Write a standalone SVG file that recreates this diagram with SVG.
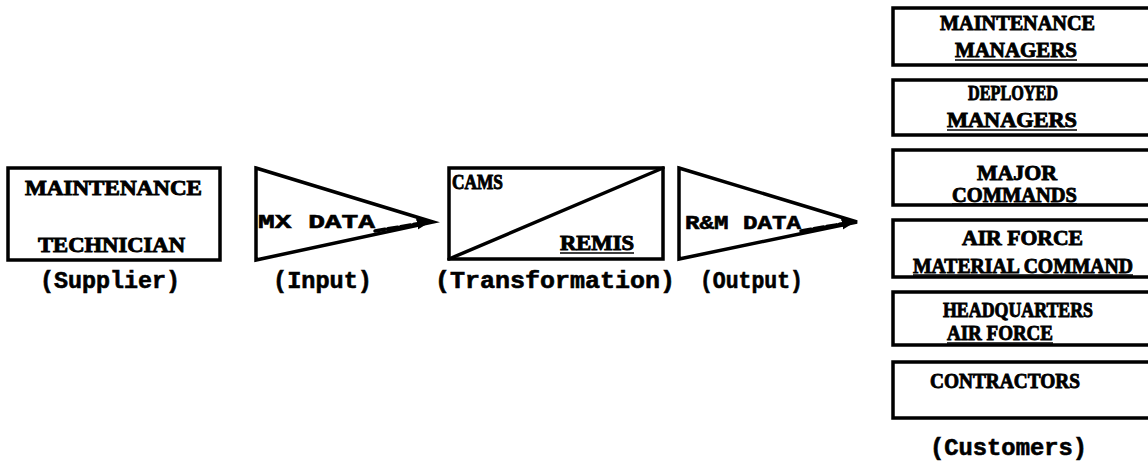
<svg xmlns="http://www.w3.org/2000/svg" width="1148" height="466" viewBox="0 0 1148 466">
  <style>
    .shape { fill: #fff; stroke: #000; stroke-width: 3.5; stroke-linejoin: miter; }
    .edge { fill: none; stroke: #000; stroke-width: 3.5; stroke-linecap: round; }
    .rule { stroke: #000; stroke-width: 1.6; }
    .serif { font-family: "Liberation Serif", "Times New Roman", serif; font-weight: bold; font-size: 21px; fill: #000; stroke: #000; stroke-width: 0.9; }
    .small { font-size: 20px; }
    .mono { font-family: "Liberation Mono", "Courier New", monospace; font-weight: bold; font-size: 23px; fill: #000; stroke: #000; stroke-width: 0.6; }
    .monoin { font-size: 20px; }
  </style>
  <defs>
    <marker id="tip" viewBox="0 0 10 10" refX="8" refY="5" markerWidth="4" markerHeight="4" orient="auto">
      <path d="M0,1 L10,5 L0,9 z" fill="#000"/>
    </marker>
  </defs>

  <!-- supplier -->
  <g id="supplier">
    <rect class="shape" x="8" y="168" width="212" height="92"/>
    <text class="serif" x="25" y="195" textLength="177" lengthAdjust="spacingAndGlyphs">MAINTENANCE</text>
    <text class="serif" x="38" y="252" textLength="147" lengthAdjust="spacingAndGlyphs">TECHNICIAN</text>
    <text class="mono" x="40" y="288" textLength="140" lengthAdjust="spacingAndGlyphs">(Supplier)</text>
  </g>

  <!-- input -->
  <g id="input">
    <polygon class="shape" points="256,168 433,222 256,260"/>
    <text class="mono monoin" x="258" y="228" textLength="117" lengthAdjust="spacingAndGlyphs">MX  DATA</text>
    <text class="mono" x="273" y="288" textLength="99" lengthAdjust="spacingAndGlyphs">(Input)</text>
  </g>

  <!-- transformation -->
  <g id="transformation">
    <rect class="shape" x="449" y="168" width="214" height="91"/>
    <line class="edge" x1="449" y1="259" x2="663" y2="168"/>
    <text class="serif small" x="452" y="189" textLength="51" lengthAdjust="spacingAndGlyphs">CAMS</text>
    <text class="serif small" x="560" y="250" textLength="74" lengthAdjust="spacingAndGlyphs">REMIS</text>
    <line class="rule" x1="560" y1="253" x2="634" y2="253"/>
    <text class="mono" x="435" y="288" textLength="240" lengthAdjust="spacingAndGlyphs">(Transformation)</text>
  </g>

  <!-- output -->
  <g id="output">
    <polygon class="shape" points="679,168 857,222 679,259"/>
    <text class="mono monoin" x="685" y="229" textLength="116" lengthAdjust="spacingAndGlyphs">R&amp;M DATA</text>
    <text class="mono" x="700" y="288" textLength="103" lengthAdjust="spacingAndGlyphs">(Output)</text>
  </g>

  <!-- data flow leaders -->
  <g id="connectors">
    <line class="edge" x1="375" y1="231" x2="428" y2="222" stroke-dasharray="10 3" stroke-width="2.5" marker-end="url(#tip)"/>
    <line class="edge" x1="801" y1="231" x2="853" y2="222" stroke-dasharray="10 3" stroke-width="2.5" marker-end="url(#tip)"/>
  </g>

  <!-- customers -->
  <g id="maintenance-managers">
    <rect class="shape" x="893" y="8" width="270" height="57"/>
    <text class="serif" x="940" y="30" textLength="155" lengthAdjust="spacingAndGlyphs">MAINTENANCE</text>
    <text class="serif" x="955" y="57" textLength="122" lengthAdjust="spacingAndGlyphs">MANAGERS</text>
    <line class="rule" x1="955" y1="60" x2="1077" y2="60"/>
  </g>
  <g id="deployed-managers">
    <rect class="shape" x="893" y="80" width="270" height="55"/>
    <text class="serif" x="968" y="100" textLength="90" lengthAdjust="spacingAndGlyphs">DEPLOYED</text>
    <text class="serif" x="947" y="127" textLength="130" lengthAdjust="spacingAndGlyphs">MANAGERS</text>
    <line class="rule" x1="947" y1="130" x2="1077" y2="130"/>
  </g>
  <g id="major-commands">
    <rect class="shape" x="893" y="150" width="270" height="55"/>
    <text class="serif" x="977" y="180" textLength="80" lengthAdjust="spacingAndGlyphs">MAJOR</text>
    <text class="serif" x="952" y="202" textLength="125" lengthAdjust="spacingAndGlyphs">COMMANDS</text>
    <line class="rule" x1="952" y1="204" x2="1077" y2="204"/>
  </g>
  <g id="afmc">
    <rect class="shape" x="893" y="220" width="270" height="57"/>
    <text class="serif" x="962" y="245" textLength="121" lengthAdjust="spacingAndGlyphs">AIR FORCE</text>
    <text class="serif" x="913" y="273" textLength="220" lengthAdjust="spacingAndGlyphs">MATERIAL COMMAND</text>
    <line class="rule" x1="913" y1="275" x2="1133" y2="275"/>
  </g>
  <g id="hq-air-force">
    <rect class="shape" x="893" y="292" width="270" height="53"/>
    <text class="serif" x="943" y="317" textLength="150" lengthAdjust="spacingAndGlyphs">HEADQUARTERS</text>
    <text class="serif" x="947" y="340" textLength="106" lengthAdjust="spacingAndGlyphs">AIR FORCE</text>
    <line class="rule" x1="947" y1="343" x2="1053" y2="343"/>
  </g>
  <g id="contractors">
    <rect class="shape" x="893" y="362" width="270" height="56"/>
    <text class="serif" x="930" y="388" textLength="150" lengthAdjust="spacingAndGlyphs">CONTRACTORS</text>
  </g>
  <text class="mono" x="930" y="455" textLength="157" lengthAdjust="spacingAndGlyphs">(Customers)</text>
</svg>
